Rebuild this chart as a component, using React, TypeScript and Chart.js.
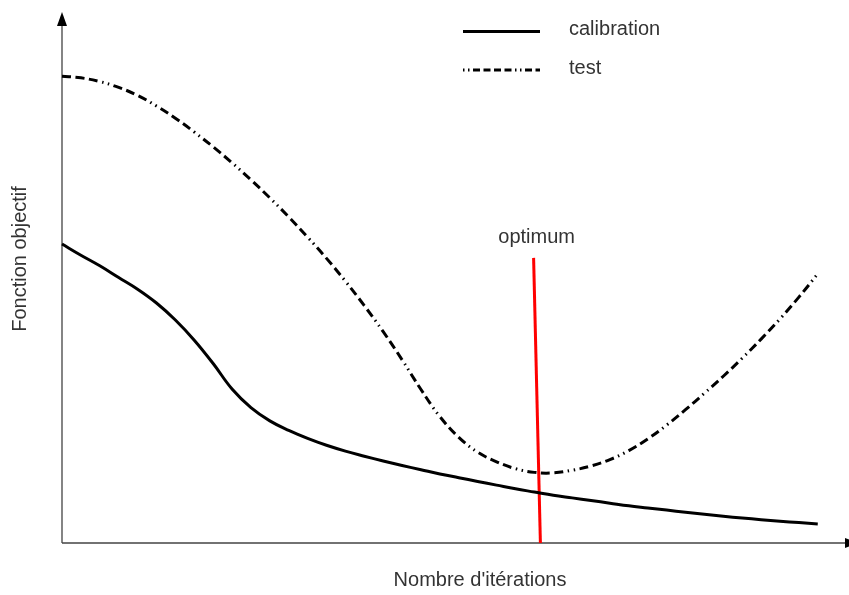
import React, { useEffect, useRef } from "react";
import { Chart, registerables } from "chart.js";

Chart.register(...registerables);

// Iteration positions (arbitrary units along the x axis)
const iterations = [
  0, 2.5, 5, 7.5, 10, 12.5, 15, 17.5, 20, 22.5, 25, 27.5, 30, 32.5, 35, 37.5, 40, 42.5, 45, 47.5,
  50, 52.5, 55, 57.5, 60, 62.5, 65, 67.5, 70, 72.5, 75, 77.5, 80, 82.5, 85, 87.5, 90, 92.5, 95, 97.5, 100,
];
// Objective function on the calibration set
const calibration = [
  56.3, 54.2, 52.2, 50.0, 47.8, 45.2, 42.0, 38.2, 33.8, 29.0, 25.5, 23.0, 21.2, 19.7, 18.4, 17.3, 16.35, 15.45, 14.6, 13.8,
  13.0, 12.3, 11.6, 10.9, 10.2, 9.6, 9.0, 8.5, 8.0, 7.5, 7.0, 6.6, 6.2, 5.8, 5.4, 5.05, 4.7, 4.4, 4.1, 3.85, 3.6,
];
// Objective function on the test set
const test = [
  87.9, 87.6, 86.9, 85.8, 84.3, 82.3, 80.0, 77.4, 74.6, 71.6, 68.4, 65.0, 61.4, 57.6, 53.6, 49.3, 44.7, 39.8, 34.5, 28.9,
  23.8, 19.9, 17.1, 15.3, 14.0, 13.3, 13.2, 13.7, 14.5, 15.7, 17.4, 19.6, 22.2, 25.1, 28.2, 31.4, 34.8, 38.4, 42.2, 46.3, 50.7,
];
// Optimum marker (slightly slanted line)
const optimumX = [62.4, 63.3];
const optimumY = [53.7, 0];

const labels = {
  calibration: "calibration",
  test: "test",
  optimum: "optimum",
  xTitle: "Nombre d'itérations",
  yTitle: "Fonction objectif",
};

const FONT = "20px 'Liberation Sans', Arial, Helvetica, sans-serif";
const TEXT = "#333333";
const DASH = [9, 4.5, 9, 4.5, 9, 4.5, 1.5, 4.5, 1.5, 4.5];

const overlay = {
  id: "overlay",
  beforeDatasetsDraw(chart: any) {
    const { ctx, chartArea, width } = chart;
    const left = chartArea.left;
    const bottom = chartArea.bottom;
    const top = chartArea.top;
    ctx.save();
    ctx.strokeStyle = "#444";
    ctx.lineWidth = 1.3;
    ctx.beginPath();
    ctx.moveTo(left, bottom);
    ctx.lineTo(left, top + 12);
    ctx.moveTo(left, bottom);
    ctx.lineTo(width - 4, bottom);
    ctx.stroke();
    ctx.fillStyle = "#000";
    ctx.beginPath();
    ctx.moveTo(left, top);
    ctx.lineTo(left - 5, top + 14);
    ctx.lineTo(left + 5, top + 14);
    ctx.closePath();
    ctx.fill();
    ctx.beginPath();
    ctx.moveTo(width + 10, bottom);
    ctx.lineTo(width - 4, bottom - 5);
    ctx.lineTo(width - 4, bottom + 5);
    ctx.closePath();
    ctx.fill();
    ctx.restore();
  },
  afterDatasetsDraw(chart: any) {
    const { ctx } = chart;
    ctx.save();
    ctx.lineWidth = 3;
    ctx.strokeStyle = "#000";
    ctx.lineCap = "butt";
    ctx.beginPath();
    ctx.moveTo(463, 31.5);
    ctx.lineTo(540, 31.5);
    ctx.stroke();
    ctx.setLineDash([7, 3.5, 7, 3.5, 7, 3.5, 7, 3.5, 1.5, 3.5, 1.5, 3.5]);
    ctx.lineDashOffset = 42;
    ctx.beginPath();
    ctx.moveTo(463, 70);
    ctx.lineTo(540, 70);
    ctx.stroke();
    ctx.setLineDash([]);

    ctx.font = FONT;
    ctx.fillStyle = TEXT;
    ctx.textBaseline = "alphabetic";
    ctx.textAlign = "left";
    ctx.fillText(labels.calibration, 569, 35);
    ctx.fillText(labels.test, 569, 74);

    const xs = chart.scales.x;
    const ys = chart.scales.y;
    ctx.textAlign = "center";
    ctx.fillText(labels.optimum, xs.getPixelForValue(optimumX[0]) + 3, ys.getPixelForValue(optimumY[0]) - 15);

    ctx.fillText(labels.xTitle, 480, 586);
    ctx.translate(25.5, 259);
    ctx.rotate(-Math.PI / 2);
    ctx.fillText(labels.yTitle, 0, 0);
    ctx.restore();
  },
};

export default function App() {
  const ref = useRef<HTMLCanvasElement | null>(null);

  useEffect(() => {
    if (!ref.current) return;
    const chart = new Chart(ref.current, {
      type: "line",
      data: {
        datasets: [
          {
            label: labels.calibration,
            data: iterations.map((x, i) => ({ x, y: calibration[i] })),
            borderColor: "#000",
            borderWidth: 3,
            pointRadius: 0,
            tension: 0.4,
            fill: false,
          },
          {
            label: labels.test,
            data: iterations.map((x, i) => ({ x, y: test[i] })),
            borderColor: "#000",
            borderWidth: 3,
            borderDash: DASH,
            pointRadius: 0,
            tension: 0.4,
            fill: false,
          },
          {
            label: labels.optimum,
            data: optimumX.map((x, i) => ({ x, y: optimumY[i] })),
            borderColor: "#ff0000",
            borderWidth: 3,
            pointRadius: 0,
            tension: 0,
            fill: false,
          },
        ],
      },
      options: {
        responsive: false,
        animation: false,
        clip: false as any,
        layout: { padding: { left: 62, top: 12, right: 1, bottom: 52 } },
        scales: {
          x: { type: "linear", min: 0, max: 104, display: false },
          y: { type: "linear", min: 0, max: 100, display: false },
        },
        plugins: {
          legend: { display: false },
          tooltip: { enabled: false },
        },
      },
      plugins: [overlay],
    });
    return () => chart.destroy();
  }, []);

  return (
    <div style={{ position: "fixed", left: 0, top: 0, width: 849, height: 595, background: "#fff" }}>
      <canvas ref={ref} width={849} height={595} style={{ display: "block" }} />
    </div>
  );
}
